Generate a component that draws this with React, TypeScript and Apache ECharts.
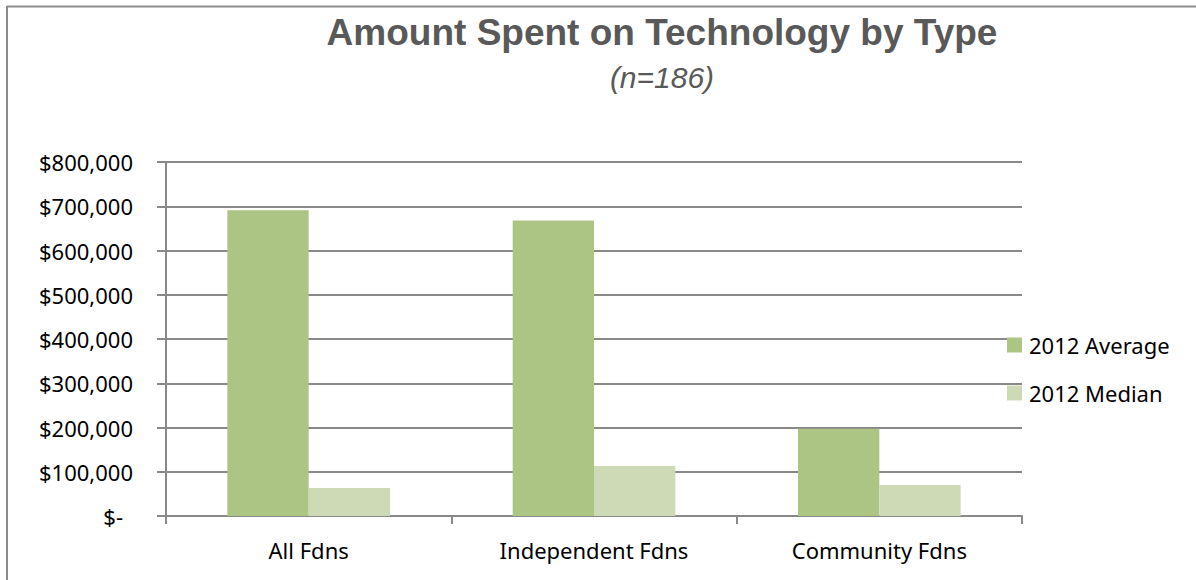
import React, { useEffect, useRef } from "react";
import * as echarts from "echarts";

const categories = ["All Fdns", "Independent Fdns", "Community Fdns"];
const seriesNames = ["2012 Average", "2012 Median"];
const averageValues = [691000, 668000, 197000];
const medianValues = [63000, 113000, 70000];
const yTicks = { min: 0, max: 800000, interval: 100000 };
const titleText = "Amount Spent on Technology by Type";
const subtitleText = "(n=186)";

const AVG_COLOR = "#adc584";
const MED_COLOR = "#cedab6";
const GRID_COLOR = "#898989";
const TEXT_FONT = "'Noto Sans', 'Open Sans', sans-serif";

function fmt(v: number): string {
  if (v === 0) return "{z|$-}";
  return "$" + v.toLocaleString("en-US");
}

export default function App() {
  const ref = useRef<HTMLDivElement>(null);
  useEffect(() => {
    if (!ref.current) return;
    const chart = echarts.init(ref.current, null, { renderer: "svg" });
    chart.setOption({
      animation: false,
      backgroundColor: "#ffffff",
      textStyle: { fontFamily: TEXT_FONT },
      graphic: [
        {
          type: "line",
          shape: { x1: 7, y1: 6.5, x2: 1196, y2: 6.5 },
          style: { stroke: "#8c8c8c", lineWidth: 2 },
        },
        {
          type: "line",
          shape: { x1: 7, y1: 6, x2: 7, y2: 580 },
          style: { stroke: "#8c8c8c", lineWidth: 2 },
        },
        {
          type: "text",
          x: 662,
          y: 32,
          style: {
            text: titleText,
            font: "bold 37px 'Liberation Sans', Arial, sans-serif",
            fill: "#595959",
            align: "center",
            verticalAlign: "middle",
          },
        },
        {
          type: "text",
          x: 662,
          y: 77,
          style: {
            text: subtitleText,
            font: "italic 30px 'Liberation Sans', Arial, sans-serif",
            fill: "#595959",
            align: "center",
            verticalAlign: "middle",
          },
        },
      ],
      legend: {
        orient: "vertical",
        left: 1007,
        top: 334,
        padding: 0,
        itemWidth: 15,
        itemHeight: 15,
        itemGap: 26,
        icon: "rect",
        data: seriesNames,
        textStyle: {
          fontFamily: TEXT_FONT,
          fontSize: 22,
          color: "#000000",
          lineHeight: 22,
          padding: [0, 0, 0, 2],
        },
      },
      grid: { left: 166, right: 174, top: 162, bottom: 64, containLabel: false },
      xAxis: {
        type: "category",
        data: categories,
        axisLine: { show: true, lineStyle: { color: GRID_COLOR, width: 2 } },
        axisTick: { show: true, length: 8, lineStyle: { color: GRID_COLOR, width: 2 } },
        axisLabel: {
          margin: 23,
          fontSize: 22,
          color: "#000000",
          fontFamily: TEXT_FONT,
        },
      },
      yAxis: {
        type: "value",
        min: yTicks.min,
        max: yTicks.max,
        interval: yTicks.interval,
        axisLine: { show: true, lineStyle: { color: GRID_COLOR, width: 2 } },
        axisTick: { show: true, length: 9, lineStyle: { color: GRID_COLOR, width: 2 } },
        splitLine: { show: true, lineStyle: { color: GRID_COLOR, width: 2 } },
        axisLabel: {
          margin: 33,
          fontSize: 22,
          color: "#000000",
          fontFamily: TEXT_FONT,
          formatter: fmt,
          rich: { z: { fontSize: 22, fontFamily: TEXT_FONT, color: "#000000", padding: [0, 10, 0, 0] } },
        },
      },
      series: [
        {
          name: seriesNames[0],
          type: "bar",
          data: averageValues,
          itemStyle: { color: AVG_COLOR },
          barGap: "0%",
          barCategoryGap: "43%",
        },
        {
          name: seriesNames[1],
          type: "bar",
          data: medianValues,
          itemStyle: { color: MED_COLOR },
          barGap: "0%",
          barCategoryGap: "43%",
        },
      ],
    });
    return () => chart.dispose();
  }, []);
  return (
    <div
      ref={ref}
      style={{ position: "fixed", left: 0, top: 0, width: 1196, height: 580 }}
    />
  );
}
